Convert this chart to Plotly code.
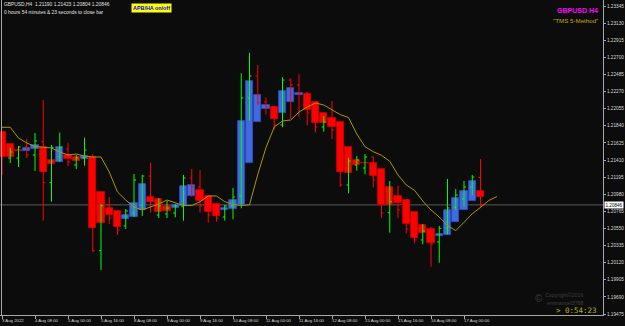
import plotly.graph_objects as go

# ---------------- data ----------------
trading_days = [("3 Aug", [16, 20]), ("4 Aug", [0, 4, 8, 12, 16, 20]), ("5 Aug", [0, 4, 8, 12, 16, 20]),
                ("8 Aug", [0, 4, 8, 12, 16, 20]), ("9 Aug", [0, 4, 8, 12, 16, 20]), ("10 Aug", [0, 4, 8, 12, 16, 20]),
                ("11 Aug", [0, 4, 8, 12, 16, 20]), ("12 Aug", [0, 4, 8, 12, 16, 20]), ("15 Aug", [0, 4, 8, 12, 16, 20]),
                ("16 Aug", [0, 4, 8, 12, 16, 20]), ("17 Aug", [0, 4, 8])]
bar_times = [f"{d} {h:02d}:00" for d, hs in trading_days for h in hs]

x_label_bars = ["3 Aug 16:00", "4 Aug 08:00", "5 Aug 00:00", "5 Aug 16:00", "8 Aug 08:00", "9 Aug 00:00",
                "9 Aug 16:00", "10 Aug 08:00", "11 Aug 00:00", "11 Aug 16:00", "12 Aug 08:00", "15 Aug 00:00",
                "15 Aug 16:00", "16 Aug 08:00", "17 Aug 00:00"]
x_label_text = ["3 Aug 2022"] + x_label_bars[1:]

y_tick_labels = ["1.23345", "1.23130", "1.22915", "1.22700", "1.22485", "1.22270", "1.22055", "1.21840",
                 "1.21625", "1.21410", "1.21195", "1.20980", "1.20765", "1.20550", "1.20335", "1.20120",
                 "1.19905", "1.19690", "1.19475"]

ha_open = [1.21766, 1.21609, 1.21532, 1.21528, 1.21546, 1.21572, 1.21414, 1.21386, 1.21478, 1.21450,
           1.21424, 1.21444, 1.21002, 1.20812, 1.20765, 1.20669, 1.20694, 1.20779, 1.20944, 1.20915,
           1.20837, 1.20813, 1.20830, 1.20956, 1.21027, 1.20963, 1.20857, 1.20783, 1.20793, 1.20850,
           1.21375, 1.21889, 1.22057, 1.22079, 1.22002, 1.22141, 1.22227, 1.22241, 1.22139, 1.22004,
           1.21937, 1.21882, 1.21573, 1.21408, 1.21377, 1.21372, 1.21292, 1.21068, 1.20956, 1.20912,
           1.20758, 1.20596, 1.20546, 1.20459, 1.20469, 1.20626, 1.20777, 1.20901, 1.21026]
ha_close = [1.21452, 1.21452, 1.21523, 1.21565, 1.21599, 1.21256, 1.21360, 1.21570, 1.21423, 1.21397,
            1.21464, 1.20559, 1.20622, 1.20719, 1.20572, 1.20719, 1.20866, 1.21108, 1.20886, 1.20760,
            1.20769, 1.20846, 1.21083, 1.21096, 1.20899, 1.20754, 1.20710, 1.20803, 1.20907, 1.21900,
            1.22403, 1.22227, 1.22101, 1.21925, 1.22281, 1.22311, 1.22256, 1.22038, 1.21871, 1.21871,
            1.21828, 1.21263, 1.21243, 1.21347, 1.21369, 1.21213, 1.20846, 1.20846, 1.20866, 1.20606,
            1.20434, 1.20497, 1.20371, 1.20480, 1.20782, 1.20929, 1.21024, 1.21150, 1.20949]

bar_open = [1.21686, 1.21435, 1.21435, 1.21577, 1.21473, 1.21640, 1.21125, 1.21452, 1.21548, 1.21347,
            1.21435, 1.21448, 1.20270, 1.20846, 1.20681, 1.20581, 1.20744, 1.20846, 1.21209, 1.20719,
            1.20732, 1.20744, 1.20823, 1.21184, 1.21071, 1.20832, 1.20719, 1.20694, 1.20832, 1.20958,
            1.22190, 1.22466, 1.22139, 1.22076, 1.21850, 1.22415, 1.22352, 1.22252, 1.22001, 1.21825,
            1.21888, 1.21787, 1.21096, 1.21347, 1.21310, 1.21448, 1.21159, 1.20748, 1.20895, 1.20782,
            1.20543, 1.20405, 1.20518, 1.20380, 1.20556, 1.20819, 1.20920, 1.21071, 1.21190]
bar_high = [1.21762, 1.21561, 1.21586, 1.21674, 1.21749, 1.22164, 1.21599, 1.21753, 1.21627, 1.21473,
            1.21690, 1.21485, 1.20857, 1.20945, 1.20773, 1.20794, 1.21234, 1.21222, 1.21376, 1.20932,
            1.20895, 1.20857, 1.21222, 1.21297, 1.21284, 1.20961, 1.20866, 1.20846, 1.21058, 1.22499,
            1.22758, 1.22604, 1.22198, 1.22085, 1.22449, 1.22437, 1.22487, 1.22260, 1.22139, 1.21963,
            1.22151, 1.21883, 1.21439, 1.21460, 1.21485, 1.21452, 1.21297, 1.21146, 1.21087, 1.20916,
            1.20757, 1.20606, 1.20572, 1.20581, 1.21171, 1.21046, 1.21146, 1.21222, 1.21423]
bar_low = [1.21222, 1.21372, 1.21322, 1.21435, 1.21272, 1.20647, 1.20886, 1.21389, 1.21335, 1.21297,
           1.21338, 1.20254, 1.20028, 1.20606, 1.20468, 1.20543, 1.20694, 1.20706, 1.20748, 1.20681,
           1.20681, 1.20690, 1.20647, 1.20949, 1.20748, 1.20622, 1.20635, 1.20647, 1.20665, 1.20803,
           1.21904, 1.22101, 1.21980, 1.21796, 1.21821, 1.21925, 1.21947, 1.21846, 1.21758, 1.21766,
           1.21670, 1.21075, 1.20992, 1.21276, 1.21230, 1.21067, 1.20678, 1.20497, 1.20678, 1.20489,
           1.20363, 1.20351, 1.20069, 1.20120, 1.20476, 1.20782, 1.20823, 1.20970, 1.20804]
bar_close = [1.21511, 1.21511, 1.21573, 1.21473, 1.21649, 1.21125, 1.21570, 1.21570, 1.21385, 1.21435,
             1.21536, 1.20270, 1.20836, 1.20681, 1.20530, 1.20769, 1.21159, 1.21209, 1.20932, 1.20832,
             1.20807, 1.20832, 1.21184, 1.21071, 1.20832, 1.20719, 1.20681, 1.20832, 1.20945, 1.22190,
             1.22466, 1.22130, 1.22076, 1.21850, 1.22415, 1.22352, 1.22252, 1.22001, 1.21825, 1.21888,
             1.21787, 1.21096, 1.21397, 1.21410, 1.21448, 1.21159, 1.20744, 1.20886, 1.20782, 1.20543,
             1.20405, 1.20518, 1.20355, 1.20552, 1.20807, 1.20970, 1.21071, 1.21196, 1.20846]

# displaced moving average (extends 2 bars past the last bar)
ma_values = [1.21821, 1.21821, 1.21686, 1.21624, 1.21580, 1.21573, 1.21561, 1.21511, 1.21473, 1.21485,
             1.21460, 1.21448, 1.21448, 1.21259, 1.21008, 1.20907, 1.20819, 1.20782, 1.20819, 1.20857,
             1.20907, 1.20870, 1.20838, 1.20838, 1.20886, 1.20958, 1.20958, 1.20886, 1.20851, 1.20838,
             1.20846, 1.21228, 1.21567, 1.21825, 1.21900, 1.21913, 1.22013, 1.22076, 1.22126, 1.22101,
             1.22038, 1.21980, 1.21944, 1.21737, 1.21577, 1.21514, 1.21469, 1.21394, 1.21222, 1.21096,
             1.21029, 1.20895, 1.20782, 1.20694, 1.20587, 1.20522, 1.20627, 1.20734, 1.20815, 1.20901,
             1.20951]

current_price = 1.20846
info_line = "GBPUSD,H4  1.21190 1.21423 1.20804 1.20846"
timer_line = "0 hours 54 minutes & 23 seconds to close bar"

# ---------------- figure ----------------
W, H = 625, 326
PL, PR, PT, PB = 0, 22, 0, 11
PW, PH = W - PL - PR, H - PT - PB
BG = "#0c0c0c"
FONT = "Liberation Sans"


def px(xp):
    return xp / PW


def py(yp):
    return 1 - yp / PH


idx = list(range(len(bar_times)))
body_base = [min(o, c) for o, c in zip(ha_open, ha_close)]
body_len = [abs(c - o) for o, c in zip(ha_open, ha_close)]
body_col = ["#4169e1" if c >= o else "#ff0000" for o, c in zip(ha_open, ha_close)]
body_edge = ["#2d4fc0" if c >= o else "#d00000" for o, c in zip(ha_open, ha_close)]

fig = go.Figure()
fig.add_trace(go.Bar(x=idx, y=body_len, base=body_base, width=0.86,
                     marker=dict(color=body_col, line=dict(color=body_edge, width=0.8)),
                     hoverinfo="skip", showlegend=False))
fig.add_trace(go.Ohlc(x=idx, open=bar_open, high=bar_high, low=bar_low, close=bar_close,
                      increasing=dict(line=dict(color="#00ff00", width=1)),
                      decreasing=dict(line=dict(color="#ff0000", width=1)),
                      tickwidth=0.25, hoverinfo="skip", showlegend=False))
fig.add_trace(go.Scatter(x=list(range(len(ma_values))), y=ma_values, mode="lines",
                         line=dict(color="#a89800", width=1), hoverinfo="skip", showlegend=False))

x_label_pos = [bar_times.index(t) for t in x_label_bars]
y_tick_vals = [float(t) for t in y_tick_labels]

ann = []
for pos, txt in zip(x_label_pos, x_label_text):
    ann.append(dict(x=pos, xref="x", y=0, yref="paper", yanchor="middle", yshift=-5, xanchor="left",
                    xshift=-2, text=txt, showarrow=False,
                    font=dict(family=FONT, size=4.3, color="#d8d8d8")))

ann += [
    dict(x=px(2), y=py(4.8), xref="paper", yref="paper", xanchor="left", yanchor="middle", text=info_line,
         showarrow=False, font=dict(family=FONT, size=4.9, color="#e0e0e0")),
    dict(x=px(2), y=py(12.5), xref="paper", yref="paper", xanchor="left", yanchor="middle", text=timer_line,
         showarrow=False, font=dict(family=FONT, size=4.9, color="#e0e0e0")),
    dict(x=px(131), y=py(7.6), xref="paper", yref="paper", xanchor="left", yanchor="middle",
         text="<b>APB/HA on/off</b>", showarrow=False, bgcolor="#ffff00", borderpad=1,
         font=dict(family=FONT, size=5.4, color="#0000ff")),
    dict(x=px(600), y=py(11), xref="paper", yref="paper", xanchor="right", yanchor="middle",
         text="<b>GBPUSD H4</b>", showarrow=False, font=dict(family=FONT, size=7, color="#ff00ff")),
    dict(x=px(600), y=py(21), xref="paper", yref="paper", xanchor="right", yanchor="middle",
         text="\"TMS 5-Method\"", showarrow=False, font=dict(family=FONT, size=6.2, color="#c8aa00")),
    dict(x=px(539), y=py(298), xref="paper", yref="paper", xanchor="center", yanchor="middle",
         text="©", showarrow=False, font=dict(family=FONT, size=10, color="#3c3c3c")),
    dict(x=px(543), y=py(295), xref="paper", yref="paper", xanchor="left", yanchor="middle",
         text="Copyright©2016", showarrow=False, font=dict(family=FONT, size=5.3, color="#404040")),
    dict(x=px(545), y=py(302.5), xref="paper", yref="paper", xanchor="left", yanchor="middle",
         text="emmanuel3788", showarrow=False, font=dict(family=FONT, size=5.3, color="#404040")),
    dict(x=px(599), y=py(310), xref="paper", yref="paper", xanchor="right", yanchor="middle",
         text="&gt; 0:54:23", showarrow=False, font=dict(family="DejaVu Sans Mono", size=7.5, color="#b4b400")),
    dict(x=px(604), y=current_price, xref="paper", yref="y", xanchor="left", yanchor="middle",
         text=f"{current_price:.5f}", showarrow=False, bgcolor="#ffffff", borderpad=0.5,
         font=dict(family=FONT, size=4.6, color="#000000")),
]

fig.update_layout(
    template="none",
    width=W, height=H, autosize=False,
    margin=dict(l=PL, r=PR, t=PT, b=PB, pad=0),
    paper_bgcolor=BG, plot_bgcolor=BG,
    showlegend=False, bargap=0,
    annotations=ann,
    shapes=[
        dict(type="line", xref="paper", yref="y", x0=0, x1=1, y0=current_price, y1=current_price,
             line=dict(color="#5a5a5a", width=1), layer="below"),
        dict(type="line", xref="paper", yref="paper", x0=px(1.5), x1=px(1.5), y0=0, y1=1,
             line=dict(color="#a8a8a8", width=1)),
    ],
    xaxis=dict(range=[-35 / 8.25 + 4, (PW - 35) / 8.25 + 4], showgrid=False, zeroline=False,
               rangeslider=dict(visible=False), showline=True, linecolor="#a8a8a8", linewidth=1,
               tickmode="array", tickvals=x_label_pos, showticklabels=False, ticks="outside",
               ticklen=3, tickcolor="#a8a8a8", tickwidth=1, automargin=False, fixedrange=True),
    yaxis=dict(range=[1.234204 - 0.00012565 * PH, 1.234204], side="right", showgrid=False, zeroline=False,
               showline=True, linecolor="#a8a8a8", linewidth=1, mirror=False,
               tickmode="array", tickvals=y_tick_vals, ticktext=y_tick_labels, ticks="outside",
               ticklen=2, tickcolor="#a8a8a8", tickwidth=1,
               tickfont=dict(family=FONT, size=4.7, color="#d8d8d8"), automargin=False, fixedrange=True),
)

fig.write_html("out.html")
